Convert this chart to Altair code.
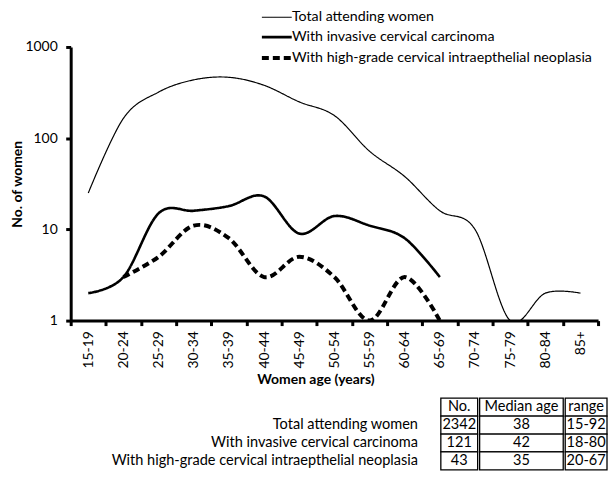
import altair as alt
import pandas as pd

ages = ["15-19", "20-24", "25-29", "30-34", "35-39", "40-44", "45-49", "50-54",
        "55-59", "60-64", "65-69", "70-74", "75-79", "80-84", "85+"]
series = ["Total attending women",
          "With invasive cervical carcinoma",
          "With high-grade cervical intraepthelial neoplasia"]

# counts per age group
total = [25, 165, 320, 436, 465, 380, 250, 177, 72, 38, 16, 10, 1, 2, 2]
invasive_ages = ages[0:11]
invasive = [2, 3, 15, 16, 18, 23, 9, 14, 11, 8, 3]
cin_ages = ages[1:11]
cin = [3, 5, 11, 8, 3, 5, 3, 1, 3, 1]

# summary table
table_columns = ["No.", "Median age", "range"]
table_no = ["2342", "121", "43"]
table_median = ["38", "42", "35"]
table_range = ["15-92", "18-80", "20-67"]

FONT = "Lato"

rows = []
for a, v in zip(ages, total):
    rows.append({"age": a, "n": v, "s": series[0]})
for a, v in zip(invasive_ages, invasive):
    rows.append({"age": a, "n": v, "s": series[1]})
for a, v in zip(cin_ages, cin):
    rows.append({"age": a, "n": v, "s": series[2]})
df = pd.DataFrame(rows)

legend = alt.Legend(
    title=None, orient="none", legendX=190, legendY=-37,
    symbolType="M-1,0H5", symbolSize=100, symbolStrokeColor="black",
    labelFont=FONT, labelFontSize=14.3, labelColor="black", labelOffset=18,
    labelLimit=400, rowPadding=5,
)

main = alt.Chart(df).mark_line(interpolate="cardinal", clip=True, color="black").encode(
    x=alt.X("age:N", sort=ages,
            scale=alt.Scale(type="band", domain=ages, paddingInner=0, paddingOuter=0),
            axis=alt.Axis(title="Women age (years)", labelAngle=-90, tickBand="extent",
                          labelPadding=5, titlePadding=5, titleX=246)),
    y=alt.Y("n:Q", scale=alt.Scale(type="log", domain=[1, 1000]),
            axis=alt.Axis(values=[1, 10, 100, 1000], format="d", title="No. of women",
                          grid=False, labelPadding=8.5, titlePadding=0)),
    strokeWidth=alt.StrokeWidth("s:N", sort=series,
                                scale=alt.Scale(domain=series, range=[1.2, 4, 2.6]),
                                legend=legend),
    strokeDash=alt.StrokeDash("s:N", sort=series,
                              scale=alt.Scale(domain=series, range=[[1, 0], [1, 0], [7, 4]]),
                              legend=legend),
).properties(width=530, height=275)

row_order = ["header"] + series
TABLE_H = 72


def row_y():
    return alt.Y("row:N", sort=row_order,
                 scale=alt.Scale(domain=row_order, paddingInner=0, paddingOuter=0),
                 axis=None)


def column_panel(name, values, width):
    d = pd.DataFrame({"row": row_order, "val": [name] + values})
    base = alt.Chart(d)
    cells = base.mark_rect(fill="white", stroke="black", strokeWidth=1.3).encode(y=row_y())
    txt = base.mark_text(font=FONT, fontSize=14.6, color="black").encode(y=row_y(), text="val:N")
    return alt.layer(cells, txt).properties(width=width, height=TABLE_H)


LABEL_W = 349
labels_df = pd.DataFrame({"row": series, "val": series})
labels = alt.Chart(labels_df).mark_text(
    font=FONT, fontSize=14.6, color="black", align="right"
).encode(y=row_y(), x=alt.value(LABEL_W), text="val:N").properties(
    width=LABEL_W, height=TABLE_H)

cells = alt.hconcat(
    column_panel(table_columns[0], table_no, 37),
    column_panel(table_columns[1], table_median, 84),
    column_panel(table_columns[2], table_range, 42),
    spacing=0,
)
table = alt.hconcat(labels, cells, spacing=22)

chart = alt.vconcat(main, table, spacing=10).properties(
    padding={"left": 3, "top": 1, "right": 0, "bottom": 0}
).configure_view(strokeWidth=0).configure_axis(
    domainColor="black", domainWidth=3, tickColor="black", tickWidth=3, tickSize=5,
    labelColor="black", labelFont=FONT, labelFontSize=14,
    titleColor="black", titleFont=FONT, titleFontSize=14, titleFontWeight="bold",
)

chart.save("out.html", embed_options={"renderer": "svg", "actions": False})
